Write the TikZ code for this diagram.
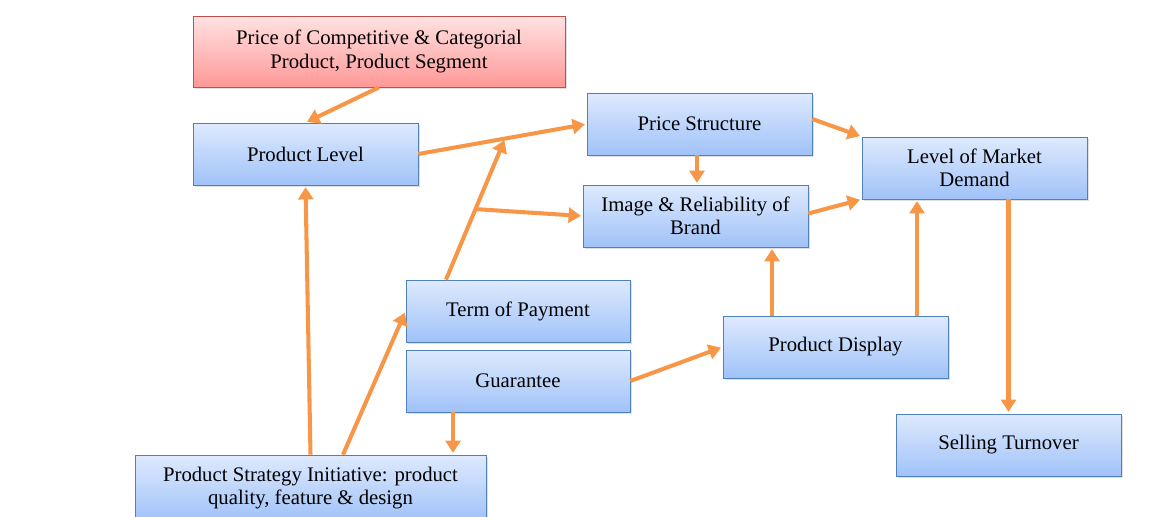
\documentclass[tikz,border=0pt]{standalone}
\usepackage{fontspec}
\setmainfont{Liberation Serif}
\usetikzlibrary{arrows.meta, positioning, calc, shadows}

\definecolor{boxline}{RGB}{79,129,189}
\definecolor{boxtop}{RGB}{222,234,254}
\definecolor{boxbot}{RGB}{160,194,248}
\definecolor{redline}{RGB}{192,80,77}
\definecolor{redtop}{RGB}{255,226,226}
\definecolor{redbot}{RGB}{255,152,152}
\definecolor{flow}{RGB}{247,150,70}

\tikzset{
	block/.style={draw=boxline, top color=boxtop, bottom color=boxbot, align=center,
		minimum width=4.5cm, minimum height=1.24cm, inner sep=2pt,
		font=\fontsize{11.8}{13.2}\selectfont,
		drop shadow={opacity=0.25, shadow xshift=1.2pt, shadow yshift=-1.2pt}},
	redblock/.style={block, draw=redline, top color=redtop, bottom color=redbot},
	flowarrow/.style={draw=flow, line width=2.3pt, -{Triangle[length=7pt,width=8.5pt]}, shorten >=1pt}
}

\begin{document}
\begin{tikzpicture}
		\useasboundingbox (0,0) rectangle (23.32,10.32);
		% boxes
		\node[redblock, minimum width=7.44cm, minimum height=1.42cm](price) at (7.58,9.29) {Price of Competitive \& Categorial\\Product, Product Segment};
		\node[block](level) at (6.11,7.24) {Product Level};
		\node[block](structure) at (13.99,7.84) {Price Structure};
		\node[block](image) at (13.91,6.00) {Image \& Reliability of\\Brand};
		\node[block](demand) at (19.49,6.96) {Level of Market\\Demand};
		\node[block, minimum width=4.48cm](payment) at (10.36,4.10) {Term of Payment};
		\node[block, minimum width=4.48cm](guarantee) at (10.36,2.70) {Guarantee};
		\node[block](display) at (16.71,3.38) {Product Display};
		\node[block](selling) at (20.17,1.42) {Selling Turnover};
		\node[block, minimum width=7.02cm, minimum height=1.32cm](strategy) at (6.21,0.56) {Product Strategy Initiative: product\\quality, feature \& design};
		% helper points
		\coordinate (join) at ($(level.east)!0.515!(structure.west)$);
		\coordinate (p1) at ([xshift=-1.44cm]payment.north);
		\coordinate (fork) at ($(p1)!0.5!(join)$);
		\coordinate (c1) at ([xshift=-0.05cm]structure.south);
		\coordinate (d1) at ([xshift=-1.27cm]display.north);
		\coordinate (d2) at ([xshift=1.63cm]display.north);
		\coordinate (d3) at (selling.north |- demand.south);
		\coordinate (g1) at ([xshift=-1.3cm]guarantee.south);
		\coordinate (s1) at ([xshift=0.65cm]strategy.north);
		% arrows
		\draw [flowarrow] (price.south) -- (level.north);
		\draw [flowarrow] (level.east) -- (structure.west);
		\draw [flowarrow] (p1) -- (join);
		\draw [flowarrow] (fork) -- (image.west);
		\draw [flowarrow] (strategy.north) -- (level.south);
		\draw [flowarrow] (s1) -- (payment.west);
		\draw [flowarrow] (c1) -- (c1 |- image.north);
		\draw [flowarrow] ([yshift=0.1cm]structure.east) -- (demand.north west);
		\draw [flowarrow] ([yshift=0.05cm]image.east) -- (demand.south west);
		\draw [flowarrow] (d1) -- (d1 |- image.south);
		\draw [flowarrow] (d2) -- (d2 |- demand.south);
		\draw [flowarrow] (d3) -- (selling.north);
		\draw [flowarrow] (guarantee.east) -- (display.west);
		\draw [flowarrow] (g1) -- (g1 |- strategy.north);
	\end{tikzpicture}
\end{document}
